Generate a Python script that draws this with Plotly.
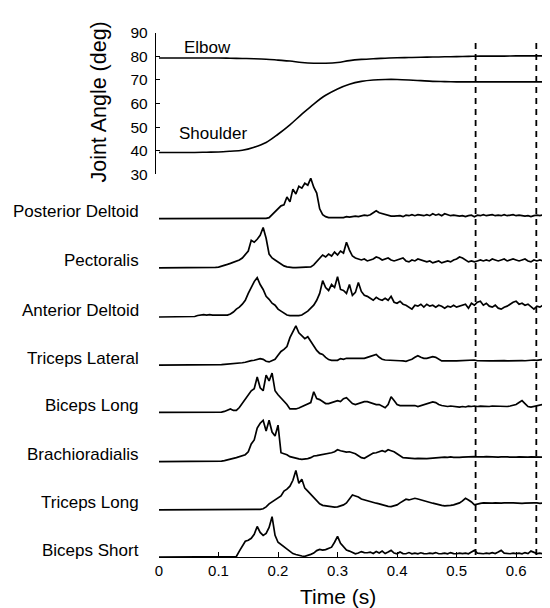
import numpy as np
import plotly.graph_objects as go

# ---------------- data ----------------
angle_time = [0, 0.02, 0.04, 0.06, 0.08, 0.10, 0.12, 0.14, 0.16, 0.18, 0.20, 0.22, 0.24, 0.26,
              0.28, 0.30, 0.32, 0.34, 0.36, 0.38, 0.40, 0.42, 0.44, 0.46, 0.48, 0.50, 0.52,
              0.54, 0.56, 0.58, 0.60, 0.62, 0.64, 0.66]
elbow = [79.3, 79.3, 79.3, 79.3, 79.3, 79.3, 79.2, 79.1, 79.0, 78.8, 78.4, 78.0, 77.4, 77.1,
         77.1, 77.4, 78.2, 78.7, 79.0, 79.2, 79.4, 79.5, 79.6, 79.7, 79.8, 79.9, 80.0,
         80.1, 80.1, 80.1, 80.2, 80.2, 80.2, 80.2]
shoulder = [39.3, 39.3, 39.3, 39.3, 39.4, 39.5, 39.8, 40.2, 41.5, 43.5, 47.0, 51.0, 55.5, 59.8,
            63.5, 66.2, 68.2, 69.4, 70.0, 70.2, 70.2, 70.0, 69.7, 69.4, 69.3, 69.2, 69.2,
            69.2, 69.2, 69.2, 69.2, 69.2, 69.2, 69.2]

# EMG sampled every 0.005 s from 0 to 0.66 s (133 samples)
emg_time = [round(i * 0.005, 3) for i in range(133)]

posterior_deltoid = [
    0, 0, 0, 0.3, 0, 0, 0.3, 0, 0, 0,
    0, 0.3, 0, 0, 0.3, 0, 0, 0, 0.3, 0,
    0, 0, 0.3, 0, 0, 0, 0.3, 0, 0, 0,
    0, 0.3, 0, 0, 0.3, 0, 0.3, 1, 4, 8,
    10, 13, 14, 22, 17, 30, 25, 33, 31, 36,
    34, 41, 32, 26, 10, 4, 2, 1, 1, 1,
    1, 1.5, 1, 2, 1.5, 2, 2.5, 2, 3, 3.5,
    3, 4, 6, 8, 6, 5, 4, 3, 2.5, 2.5,
    2.5, 3, 2, 3.5, 3, 4, 3, 4, 3.5, 3,
    4, 3, 5, 3.5, 4.5, 3, 5, 4, 3, 3.5,
    3, 2.5, 3, 2, 3, 3.5, 2, 3.5, 3, 4,
    3, 3.5, 4, 3, 3.5, 3, 4, 3, 3.5, 4,
    3, 3.5, 3, 2.5, 3, 2, 3, 3.5, 3, 3.5,
    4, 5, 4.5]
pectoralis = [
    0, 0, 0.3, 0, 0, 0, 0.3, 0, 0, 0,
    0, 0.3, 0, 0, 0, 0.3, 0.5, 0.3, 0.5, 0.5,
    0.8, 1.5, 2.5, 3.5, 4.5, 5.5, 7, 8, 10, 13,
    17, 28, 26, 29, 33, 41, 30, 14, 10, 8,
    6, 3.5, 2, 1, 0.5, 0.3, 0.3, 0.3, 0.3, 0.3,
    0.5, 1, 3, 6, 9, 13, 11, 14, 12, 16,
    13, 17, 15, 26, 18, 12, 10, 9, 8, 9,
    7, 8, 9, 11, 10, 8, 9, 10, 8, 7,
    8, 9, 10, 7, 6, 8, 7, 9, 8, 7,
    6, 7, 5, 6, 7, 5, 6, 7, 6, 8,
    9, 11, 10, 8, 6, 7, 6, 7, 8, 7,
    8, 7, 9, 8, 7, 8, 9, 7, 8, 9,
    8, 7, 8, 9, 7, 6, 8, 7, 8, 7,
    8, 7, 7]
anterior_deltoid = [
    0, 0, 0, 0.3, 0, 0, 0, 0.3, 0, 0,
    0, 0.3, 0.5, 1.5, 2, 2.5, 2, 2.5, 2, 2.3,
    2, 2, 1.8, 2, 3, 5, 8, 10, 13, 17,
    24, 30, 36, 40, 33, 28, 21, 18, 14, 12,
    8, 6, 3.5, 2, 1.5, 1.3, 1.3, 1.5, 2, 4,
    6, 9, 12, 17, 24, 37, 30, 27, 33, 30,
    41, 28, 27, 24, 33, 22, 25, 35, 26, 22,
    21, 19, 17, 20, 18, 17, 19, 17, 21, 15,
    14, 16, 13, 12, 10, 8, 12, 11, 13, 10,
    13, 11, 12, 10, 12, 11, 9, 11, 10, 12,
    10, 11, 12, 13, 9, 14, 12, 15, 16, 12,
    14, 11, 10, 12, 9, 8, 10, 11, 13, 15,
    16, 13, 14, 12, 13, 10, 8, 11, 10, 12,
    10, 9, 10]
triceps_lateral = [
    0, 0, 0, 0, 0.3, 0, 0, 0, 0.3, 0,
    0, 0, 0.3, 0, 0, 0, 0.3, 0, 0, 0,
    0.3, 0.5, 0.8, 1, 1.3, 1.5, 2, 2.3, 2.5, 3,
    4, 4.7, 5, 6, 6.7, 6, 4, 3.3, 5, 6,
    10, 14, 16, 19, 28, 34, 40, 33, 30, 27,
    29, 24, 19, 15, 12, 11, 8, 5.7, 5, 4.7,
    5, 6.7, 6, 7, 7, 6.5, 7, 6.5, 7, 7,
    8, 9, 10, 11, 8, 6, 5.3, 5, 5, 4.5,
    4.3, 4.5, 4.3, 4, 5, 6, 8, 9.7, 8, 7,
    7, 8, 8.7, 8, 6, 4.3, 4.3, 4.5, 4.3, 4.5,
    4.3, 4.5, 4.3, 4.7, 4.5, 5, 5.3, 4.5, 4.3, 4.3,
    4.5, 4.3, 4.3, 4.5, 4.3, 4.5, 4.7, 4.3, 4.5, 4.7,
    4.5, 5, 4.7, 4.5, 4.5, 5, 5.3, 5, 5.5, 6,
    6, 6, 6]
biceps_long = [
    0, 0, 0.3, 0, 0, 0, 0.3, 0, 0, 0,
    0, 0, 0.3, 0, 0, 0, 0, 0.3, 0, 0,
    0, 0.3, 1, 2.5, 3.5, 2, 2, 5, 9, 13,
    18, 22, 24, 36, 25, 22, 38, 32, 40, 22,
    18, 15, 12, 8, 3.5, 3.3, 3.5, 4.5, 5.7, 7,
    8, 10, 21, 14, 13, 11, 9, 9, 10, 11,
    12, 11, 14, 15, 12, 9, 8, 9, 10, 11,
    11, 10, 9, 8, 8, 6, 4.7, 8, 16, 12,
    8, 7, 7, 6.3, 6.5, 6.3, 7, 6, 7, 8,
    9, 10, 10.7, 10, 8, 7, 6.3, 6, 6.5, 6,
    5.5, 5.3, 6, 5.5, 6.3, 6, 6.5, 6, 6.3, 6,
    6.3, 6, 6.5, 6.3, 6, 6.5, 6.3, 6, 6.5, 7,
    8, 10, 12, 9, 6, 5.3, 6, 7, 7.5, 8,
    8, 7.5, 8]
brachioradialis = [
    0, 0, 0, 0.3, 0, 0, 0, 0.3, 0, 0,
    0, 0, 0, 0.3, 0, 0, 0, 0, 0.3, 0,
    0.3, 0.5, 1, 2, 3, 3.3, 4, 5, 5.5, 7,
    10, 18, 22, 34, 39, 42, 31, 42, 30, 26,
    37, 9, 8, 7, 5, 4, 3.3, 2.7, 2.3, 2.3,
    3, 4, 5.7, 6, 6.5, 7, 7.7, 8, 9, 10,
    12, 11, 10, 9.7, 10, 9, 8, 6, 4, 3.3,
    5, 7, 8.7, 9, 10, 11, 10, 12, 11, 10,
    8, 6, 4, 3.7, 3.3, 3, 3, 3.2, 3, 3,
    3, 3.2, 3.5, 4, 4.5, 4.7, 4.5, 4.3, 4.7, 4.3,
    4, 4.2, 4.5, 4.7, 4.5, 4.7, 5, 4.7, 4.5, 4.7,
    5, 4.8, 4.5, 4.3, 4.5, 4.8, 5, 4.7, 4.5, 4.3,
    4.5, 4.7, 4.5, 4.3, 4.5, 4.7, 4.5, 4.5, 4.3, 4.5,
    4.7, 4.5, 4.5]
triceps_long = [
    0, 0, 0, 0, 0.3, 0, 0, 0, 0.3, 0,
    0, 0, 0.3, 0, 0, 0, 0.3, 0, 0, 0,
    0, 0.3, 0, 0, 0.3, 0, 0, 0.3, 0, 0,
    0.3, 0, 0.3, 0.3, 0.5, 1, 3, 6, 8, 10,
    12, 14, 19, 21, 24, 30, 40, 27, 31, 22,
    19, 16, 13, 9, 6, 4.5, 4, 3.3, 2.7, 2.7,
    3, 4, 5, 7, 11, 15, 14, 13, 11, 10,
    9, 8, 7, 6.7, 6, 5, 4, 3.5, 3.3, 4,
    5, 7, 9, 10.7, 10, 11, 11.7, 11, 10, 9,
    8, 7, 6.7, 6, 5, 4.5, 4, 4, 4.5, 5,
    6, 7, 9, 11.7, 10, 8, 5, 6, 6.5, 7,
    6.7, 6.5, 6.7, 7, 6.5, 6.7, 7, 7.3, 7, 7,
    6.7, 7, 6.5, 6.7, 7, 6.7, 7, 7, 6.5, 7,
    7, 7.3, 7]
biceps_short = [
    0, 0, 0, 0, 0, 0, 0, 0, 0, 0,
    0, 0, 0, 0, 0, 0, 0, 0, 0, 0,
    0, 0, 0, 0, 0, 0, 0.5, 6, 11, 16,
    17, 19, 23, 31, 25, 22, 24, 30, 41, 22,
    15, 12.7, 10, 8, 5.5, 3.5, 2.5, 1.5, 1, 0.7,
    1.5, 2.7, 4, 6.5, 7.7, 7, 7.5, 9, 10, 15,
    21, 14, 10, 7, 6, 4.5, 3.3, 4, 5.5, 4.5,
    4.3, 5, 3.5, 5.5, 4, 6, 3.5, 5, 6.7, 4,
    3.3, 5, 3.5, 3.3, 4.5, 3.3, 4, 3.3, 4.3, 3.5,
    3.3, 4, 3.5, 4.5, 3.3, 3.5, 4, 3.3, 4.5, 3.5,
    3.3, 4, 3.5, 4, 3.3, 5, 6.7, 4, 3.5, 3.3,
    4, 3.5, 4.5, 3.5, 5, 6.7, 4, 3.5, 3.3, 4,
    3.5, 4, 3.3, 4.5, 3.5, 6, 5, 3.5, 4, 3.3,
    4.5, 3.5, 4]

muscle_names = ["Posterior Deltoid", "Pectoralis", "Anterior Deltoid", "Triceps Lateral",
                "Biceps Long", "Brachioradialis", "Triceps Long", "Biceps Short"]
muscle_data = [posterior_deltoid, pectoralis, anterior_deltoid, triceps_lateral,
               biceps_long, brachioradialis, triceps_long, biceps_short]

marker_times = [0.532, 0.634]
x_ticks = [0, 0.1, 0.2, 0.3, 0.4, 0.5, 0.6]
x_ticktext = ["0", "0.1", "0.2", "0.3", "0.4", "0.5", "0.6"]
y_ticks = [30, 40, 50, 60, 70, 80, 90]

# ---------------- layout helpers (positions only) ----------------
# The page body has an 8px margin, so the figure is made 8px smaller and
# positions below are given in page pixels.
BODY = 8
W, H = 550 - BODY, 608 - BODY
PLOT_LEFT, PLOT_BOTTOM = 155, 557          # page px
ML = PLOT_LEFT - BODY
MB = (H + BODY) - PLOT_BOTTOM
PW = W - ML
PH = H - MB
trace_offsets = [344, 294, 244, 195, 147, 97, 48, 0]   # stacking positions (y2 units = px)
EMG_TOP = 389

def px_to_paper_x(px):
    return (px - PLOT_LEFT) / PW

def px_to_paper_y(py):
    return (PLOT_BOTTOM - py) / PH

FONT = "Liberation Sans, Arial, sans-serif"
LABEL_SIZE = 17

fig = go.Figure()

fig.add_trace(go.Scatter(x=angle_time, y=elbow, mode="lines", xaxis="x", yaxis="y",
                         line=dict(color="black", width=1.6, shape="spline"), showlegend=False))
fig.add_trace(go.Scatter(x=angle_time, y=shoulder, mode="lines", xaxis="x", yaxis="y",
                         line=dict(color="black", width=1.6, shape="spline"), showlegend=False))

for off, vals in zip(trace_offsets, muscle_data):
    fig.add_trace(go.Scatter(x=emg_time, y=[off + v for v in vals], mode="lines",
                             xaxis="x", yaxis="y2",
                             line=dict(color="black", width=1.7), showlegend=False))

annotations = []
for off, name in zip(trace_offsets, muscle_names):
    annotations.append(dict(text=name, xref="paper", x=px_to_paper_x(141), xanchor="right",
                            yref="y2", y=off + 7, yanchor="middle", showarrow=False,
                            font=dict(family=FONT, size=LABEL_SIZE, color="black")))

annotations += [
    dict(text="Elbow", xref="x", x=0.0807, yref="y", y=83.8, xanchor="center",
         yanchor="middle", showarrow=False,
         font=dict(family=FONT, size=LABEL_SIZE, color="black")),
    dict(text="Shoulder", xref="x", x=0.0908, yref="y", y=47.5, xanchor="center",
         yanchor="middle", showarrow=False,
         font=dict(family=FONT, size=LABEL_SIZE, color="black")),
    dict(text="Joint Angle (deg)", xref="paper", x=px_to_paper_x(99), yref="paper",
         y=px_to_paper_y(95), xanchor="center", yanchor="middle", textangle=-90,
         showarrow=False, font=dict(family=FONT, size=21.5, color="black")),
    dict(text="Time (s)", xref="x", x=0.3, yref="paper", y=px_to_paper_y(597),
         xanchor="center", yanchor="middle",
         showarrow=False, font=dict(family=FONT, size=21, color="black")),
]

shapes = []
for t in marker_times:
    shapes.append(dict(type="line", xref="x", x0=t, x1=t, yref="paper",
                       y0=px_to_paper_y(555), y1=px_to_paper_y(33),
                       line=dict(color="black", width=1.8, dash="6px,5px")))

fig.update_layout(
    width=W, height=H,
    margin=dict(l=ML, r=0, t=0, b=MB, pad=0),
    paper_bgcolor="white", plot_bgcolor="white",
    font=dict(family=FONT, color="black"),
    xaxis=dict(domain=[px_to_paper_x(159), 1], range=[0, 0.657], anchor="y2",
               tickvals=x_ticks, ticktext=x_ticktext, ticks="inside", ticklen=5,
               tickcolor="black", showline=True, linecolor="black", linewidth=1.3,
               showgrid=False, zeroline=False, tickfont=dict(size=15, family=FONT)),
    yaxis=dict(domain=[px_to_paper_y(168), px_to_paper_y(24)], range=[30, 90],
               anchor="free", position=0, tickvals=y_ticks, ticks="inside", ticklen=4,
               tickcolor="black", showline=True, linecolor="black", linewidth=1.3,
               ticklabelstandoff=4,
               showgrid=False, zeroline=False, tickfont=dict(size=15.5, family=FONT)),
    yaxis2=dict(domain=[0, px_to_paper_y(168)], range=[0, EMG_TOP], visible=False,
                showgrid=False, zeroline=False),
    annotations=annotations, shapes=shapes,
)

fig.write_html("out.html")
